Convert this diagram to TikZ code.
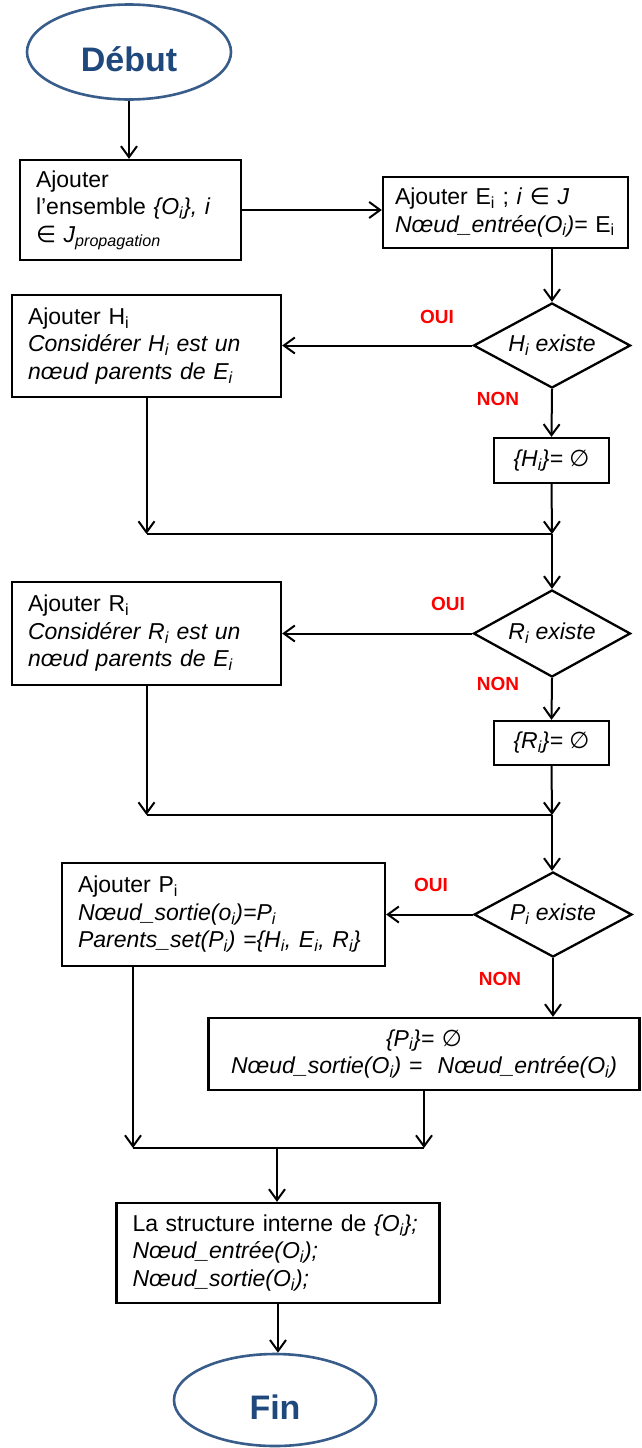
\documentclass[tikz,border=0pt]{standalone}
\usepackage{fontspec}
\setmainfont{Liberation Sans}
\newfontfamily\symfont{DejaVu Sans}
\usepackage{tikz}
\usetikzlibrary{shapes.geometric, arrows.meta, positioning}
\definecolor{termblue}{RGB}{56,93,138}
\definecolor{termtext}{RGB}{31,73,125}
\definecolor{ansred}{RGB}{255,0,0}
\newcommand{\idx}[1]{\textsubscript{#1}}
\newcommand{\elem}{{\symfont ∈}}
\newcommand{\ensvide}{{\symfont ∅}}
\tikzset{
  block/.style={rectangle, draw=black, line width=2.3pt, align=left,
    font=\fontsize{23}{27.5}\selectfont, inner xsep=16pt, inner ysep=0pt},
  smallblock/.style={rectangle, draw=black, line width=2.3pt, align=center,
    font=\fontsize{23}{27.5}\selectfont, inner sep=0pt},
  decision/.style={diamond, draw=black, line width=2.3pt, aspect=1.85,
    inner sep=0pt, font=\fontsize{23}{27.5}\selectfont\itshape},
  terminal/.style={ellipse, draw=termblue, line width=2.6pt, text=termtext,
    font=\fontsize{34}{40}\selectfont\bfseries, text height=38pt, text depth=0pt},
  answer/.style={font=\fontsize{19}{22}\selectfont\bfseries, text=ansred},
  arrow/.style={-{Straight Barb[length=11pt,width=16pt]}, line width=2pt},
  line/.style={line width=2pt}
}
\begin{document}
\begin{tikzpicture}[x=1pt, y=-1pt]
  \path[use as bounding box, fill=white] (0,0) rectangle (641,1448);

  % Start and first steps
  \node[terminal, minimum width=204pt, minimum height=95pt] (debut) at (129,52) {Début};
  \node[block, minimum width=221pt, minimum height=100pt, text width=189pt] (addset) at (130.5,210)
    {Ajouter\\ l’ensemble \textit{\{O\idx{i}\}, i}\\ \elem{} \textit{J\idx{propagation}}};
  \node[block, inner xsep=12pt, minimum width=245pt, minimum height=71pt, text width=221pt] (addE) at (505.5,212.5)
    {Ajouter E\idx{i} ; \textit{i} \elem{} \textit{J}\\ \textit{Nœud\_entrée(O\idx{i})=} E\idx{i}};

  % H branch
  \node[decision, minimum width=157pt, minimum height=85pt] (existH) at (552,345.5) {H\idx{i} existe};
  \node[block, minimum width=269pt, minimum height=102pt, text width=237pt] (addH) at (146.5,346)
    {Ajouter H\idx{i}\\ \textit{Considérer H\idx{i} est un}\\ \textit{nœud parents de E\idx{i}}};
  \node[smallblock, minimum width=115pt, minimum height=45pt] (noneH) at (551.5,460.5) {\textit{\{H\idx{i}\}=} \ensvide};
  \node[answer] (ouiH) at (437,317) {OUI};
  \node[answer] (nonH) at (498,399) {NON};

  % R branch
  \node[decision, minimum width=157pt, minimum height=87pt] (existR) at (552,633.5) {R\idx{i} existe};
  \node[block, minimum width=269pt, minimum height=103pt, text width=237pt] (addR) at (146.5,633.5)
    {Ajouter R\idx{i}\\ \textit{Considérer R\idx{i} est un}\\ \textit{nœud parents de E\idx{i}}};
  \node[smallblock, minimum width=115pt, minimum height=44pt] (noneR) at (551.5,743) {\textit{\{R\idx{i}\}=} \ensvide};
  \node[answer] (ouiR) at (448,604) {OUI};
  \node[answer] (nonR) at (498,684) {NON};

  % P branch
  \node[decision, minimum width=158pt, minimum height=85pt] (existP) at (553,914.5) {P\idx{i} existe};
  \node[block, minimum width=323pt, minimum height=103pt, text width=291pt] (addP) at (223.5,914.5)
    {Ajouter P\idx{i}\\ \textit{Nœud\_sortie(o\idx{i})=P\idx{i}}\\ \textit{Parents\_set(P\idx{i}) =\{H\idx{i}, E\idx{i}, R\idx{i}\}}};
  \node[block, align=center, inner xsep=14pt, minimum width=431pt, minimum height=72pt, text width=403pt] (noneP) at (424,1054)
    {\textit{\{P\idx{i}\}=} \ensvide\\ \textit{Nœud\_sortie(O\idx{i}) =\ \ Nœud\_entrée(O\idx{i})}};
  \node[answer] (ouiP) at (431,885) {OUI};
  \node[answer] (nonP) at (500,979) {NON};

  % End
  \node[block, minimum width=323pt, minimum height=100pt, text width=291pt] (struct) at (278,1253)
    {La structure interne de \textit{\{O\idx{i}\};}\\ \textit{Nœud\_entrée(O\idx{i});}\\ \textit{Nœud\_sortie(O\idx{i});}};
  \node[terminal, minimum width=202pt, minimum height=92pt] (fin) at (275,1400) {Fin};

  % Join points
  \coordinate (joinHl) at (146.5,534);
  \coordinate (joinHr) at (552,534);
  \coordinate (joinRl) at (146.5,815);
  \coordinate (joinRr) at (552,815);
  \coordinate (joinPl) at (133,1148);
  \coordinate (joinPr) at (424,1148);
  \coordinate (joinPm) at (277,1148);

  % Forward path
  \draw[arrow] (debut.south) -- (debut.south |- addset.north);
  \draw[arrow] (addset.east) -- (addset.east -| addE.west);
  \draw[arrow] (addE.south -| existH.north) -- (existH.north);

  % H decision
  \draw[arrow] (existH.west) -- (existH.west -| addH.east);
  \draw[arrow] (existH.south) -- (noneH.north);
  \draw[arrow] (addH.south) -- (joinHl);
  \draw[arrow] (noneH.south) -- (joinHr);
  \draw[line] (joinHl) -- (joinHr);
  \draw[arrow] (joinHr) -- (existR.north);

  % R decision
  \draw[arrow] (existR.west) -- (existR.west -| addR.east);
  \draw[arrow] (existR.south) -- (noneR.north);
  \draw[arrow] (addR.south) -- (joinRl);
  \draw[arrow] (noneR.south) -- (joinRr);
  \draw[line] (joinRl) -- (joinRr);
  \draw[arrow] (joinRr) -- (joinRr |- existP.north);

  % P decision
  \draw[arrow] (existP.west) -- (existP.west -| addP.east);
  \draw[arrow] (existP.south) -- (existP.south |- noneP.north);
  \draw[arrow] (joinPl |- addP.south) -- (joinPl);
  \draw[arrow] (noneP.south) -- (joinPr);
  \draw[line] (joinPl) -- (joinPr);
  \draw[arrow] (joinPm) -- (joinPm |- struct.north);
  \draw[arrow] (struct.south) -- (struct.south |- fin.north);
\end{tikzpicture}
\end{document}
